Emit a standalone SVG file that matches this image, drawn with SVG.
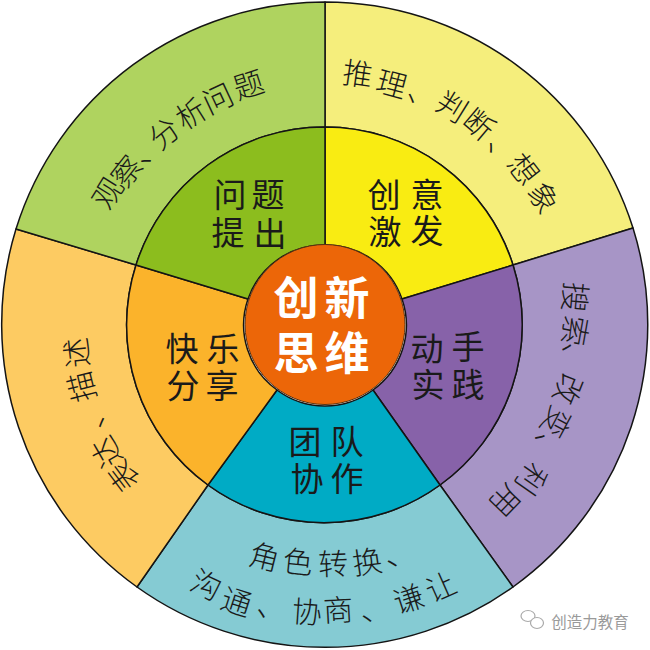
<svg xmlns="http://www.w3.org/2000/svg" width="650" height="650" viewBox="0 0 650 650">
<style>
.s{stroke:#141414;stroke-width:1.5;stroke-linejoin:round}
text{font-family:"Noto Sans CJK SC","Noto Sans",sans-serif;text-anchor:middle;dominant-baseline:central;fill:#1a1a1a}
.o{font-size:30px;font-weight:300}
.i{font-size:33px;font-weight:400}
.c{font-size:45px;font-weight:700;fill:#fff}
.w{font-size:15.5px;fill:#9a9a9a;font-weight:400}
</style>
<rect width="650" height="650" fill="#fff"/>
<g id="sector-yellow">
<path class="s" fill="#F5EE7C" d="M325 127 L325 2 A323 323 0 0 1 633 228 L513 265 A197.5 197.5 0 0 0 325 127Z"/>
<path class="s" fill="#F9EC12" d="M325 245 L325 127 A197.5 197.5 0 0 1 513 265 L402 299 A80 80 0 0 0 325 245Z"/>
<text class="o" transform="translate(358 72) rotate(8)">推</text><text class="o" transform="translate(392 82) rotate(15)">理</text><text class="o" transform="translate(412 97) rotate(22) translate(9 -9)">、</text><text class="o" transform="translate(453 105) rotate(32)">判</text><text class="o" transform="translate(480 123) rotate(40)">断</text><text class="o" transform="translate(492 147) rotate(45) translate(9 -9)">、</text><text class="o" transform="translate(525 168) rotate(52)">想</text><text class="o" transform="translate(545 197) rotate(60)">象</text>
<text class="i" x="384" y="193">创</text><text class="i" x="427" y="193">意</text><text class="i" x="385" y="230">激</text><text class="i" x="427" y="229">发</text>
</g>
<g id="sector-purple">
<path class="s" fill="#A795C6" d="M513 265 L633 228 A323 323 0 0 1 513 587 L440 485 A197.5 197.5 0 0 0 513 265Z"/>
<path class="s" fill="#8762A9" d="M402 299 L513 265 A197.5 197.5 0 0 1 440 485 L373 390 A80 80 0 0 0 402 299Z"/>
<text class="o" transform="translate(577 297) rotate(95)">搜</text><text class="o" transform="translate(577 331) rotate(100)">索</text><text class="o" transform="translate(568 348) rotate(105) translate(9 -9)">、</text><text class="o" transform="translate(570 390) rotate(112)">改</text><text class="o" transform="translate(558 423) rotate(118)">变</text><text class="o" transform="translate(541 438) rotate(122) translate(9 -9)">、</text><text class="o" transform="translate(533 480) rotate(125)">利</text><text class="o" transform="translate(507 502) rotate(134)">用</text>
<text class="i" x="427" y="347">动</text><text class="i" x="468" y="345">手</text><text class="i" x="428" y="383">实</text><text class="i" x="468" y="383">践</text>
</g>
<g id="sector-teal">
<path class="s" fill="#85CBD3" d="M440 485 L513 587 A323 323 0 0 1 137 587 L208 485 A197.5 197.5 0 0 0 440 485Z"/>
<path class="s" fill="#00ABC5" d="M373 390 L440 485 A197.5 197.5 0 0 1 208 485 L277 390 A80 80 0 0 0 373 390Z"/>
<text class="o" transform="translate(265 555) rotate(14)">角</text><text class="o" transform="translate(298 560) rotate(6)">色</text><text class="o" transform="translate(333 562) rotate(-2)">转</text><text class="o" transform="translate(367 560) rotate(-8)">换</text><text class="o" transform="translate(392 562) rotate(-14) translate(9 -9)">、</text>
<text class="o" transform="translate(207 583) rotate(25)">沟</text><text class="o" transform="translate(237 600) rotate(18)">通</text><text class="o" transform="translate(262 612) rotate(12) translate(9 -9)">、</text><text class="o" transform="translate(307 610) rotate(4)">协</text><text class="o" transform="translate(338 608) rotate(-3)">商</text><text class="o" transform="translate(367 617) rotate(-9) translate(9 -9)">、</text><text class="o" transform="translate(408 597) rotate(-18)">谦</text><text class="o" transform="translate(440 585) rotate(-24)">让</text>
<text class="i" x="305" y="440">团</text><text class="i" x="347" y="440">队</text><text class="i" x="307" y="477">协</text><text class="i" x="347" y="477">作</text>
</g>
<g id="sector-orange">
<path class="s" fill="#FDCB62" d="M208 485 L137 587 A323 323 0 0 1 16 229 L136 265 A197.5 197.5 0 0 0 208 485Z"/>
<path class="s" fill="#FBB32B" d="M277 390 L208 485 A197.5 197.5 0 0 1 136 265 L248 299 A80 80 0 0 0 277 390Z"/>
<text class="o" transform="translate(122 477) rotate(-127)">表</text><text class="o" transform="translate(105 453) rotate(-120)">达</text><text class="o" transform="translate(100 423) rotate(-112) translate(9 -9)">、</text><text class="o" transform="translate(80 387) rotate(-104)">描</text><text class="o" transform="translate(75 353) rotate(-96)">述</text>
<text class="i" x="182" y="347">快</text><text class="i" x="223" y="347">乐</text><text class="i" x="183" y="384">分</text><text class="i" x="222" y="384">享</text>
</g>
<g id="sector-green">
<path class="s" fill="#AFD35F" d="M136 265 L16 229 A323 323 0 0 1 325 2 L325 127 A197.5 197.5 0 0 0 136 265Z"/>
<path class="s" fill="#8CBD1E" d="M248 299 L136 265 A197.5 197.5 0 0 1 325 127 L325 245 A80 80 0 0 0 248 299Z"/>
<text class="o" transform="translate(106 192) rotate(-58)">观</text><text class="o" transform="translate(125 170) rotate(-52)">察</text><text class="o" transform="translate(145 160) rotate(-46) translate(9 -9)">、</text><text class="o" transform="translate(163 132) rotate(-40)">分</text><text class="o" transform="translate(190 112) rotate(-32)">析</text><text class="o" transform="translate(217 97) rotate(-25)">问</text><text class="o" transform="translate(248 83) rotate(-18)">题</text>
<text class="i" x="230" y="193">问</text><text class="i" x="268" y="193">题</text><text class="i" x="228" y="231">提</text><text class="i" x="270" y="232">出</text>
</g>
<g id="center">
<circle cx="325" cy="324.5" r="80" fill="#EC6608" stroke="#5a3310" stroke-width="1"/>
<text class="c" x="296" y="295">创</text><text class="c" x="347" y="295">新</text><text class="c" x="296" y="350">思</text><text class="c" x="347" y="350">维</text>
</g>
<g id="watermark">
<ellipse cx="528" cy="616" rx="7" ry="5.5" fill="none" stroke="#aaa" stroke-width="1.2"/>
<ellipse cx="537" cy="623" rx="6.5" ry="5.5" fill="#fff" stroke="#aaa" stroke-width="1.2"/>
<text class="w" x="590" y="621">创造力教育</text>
</g>
</svg>
